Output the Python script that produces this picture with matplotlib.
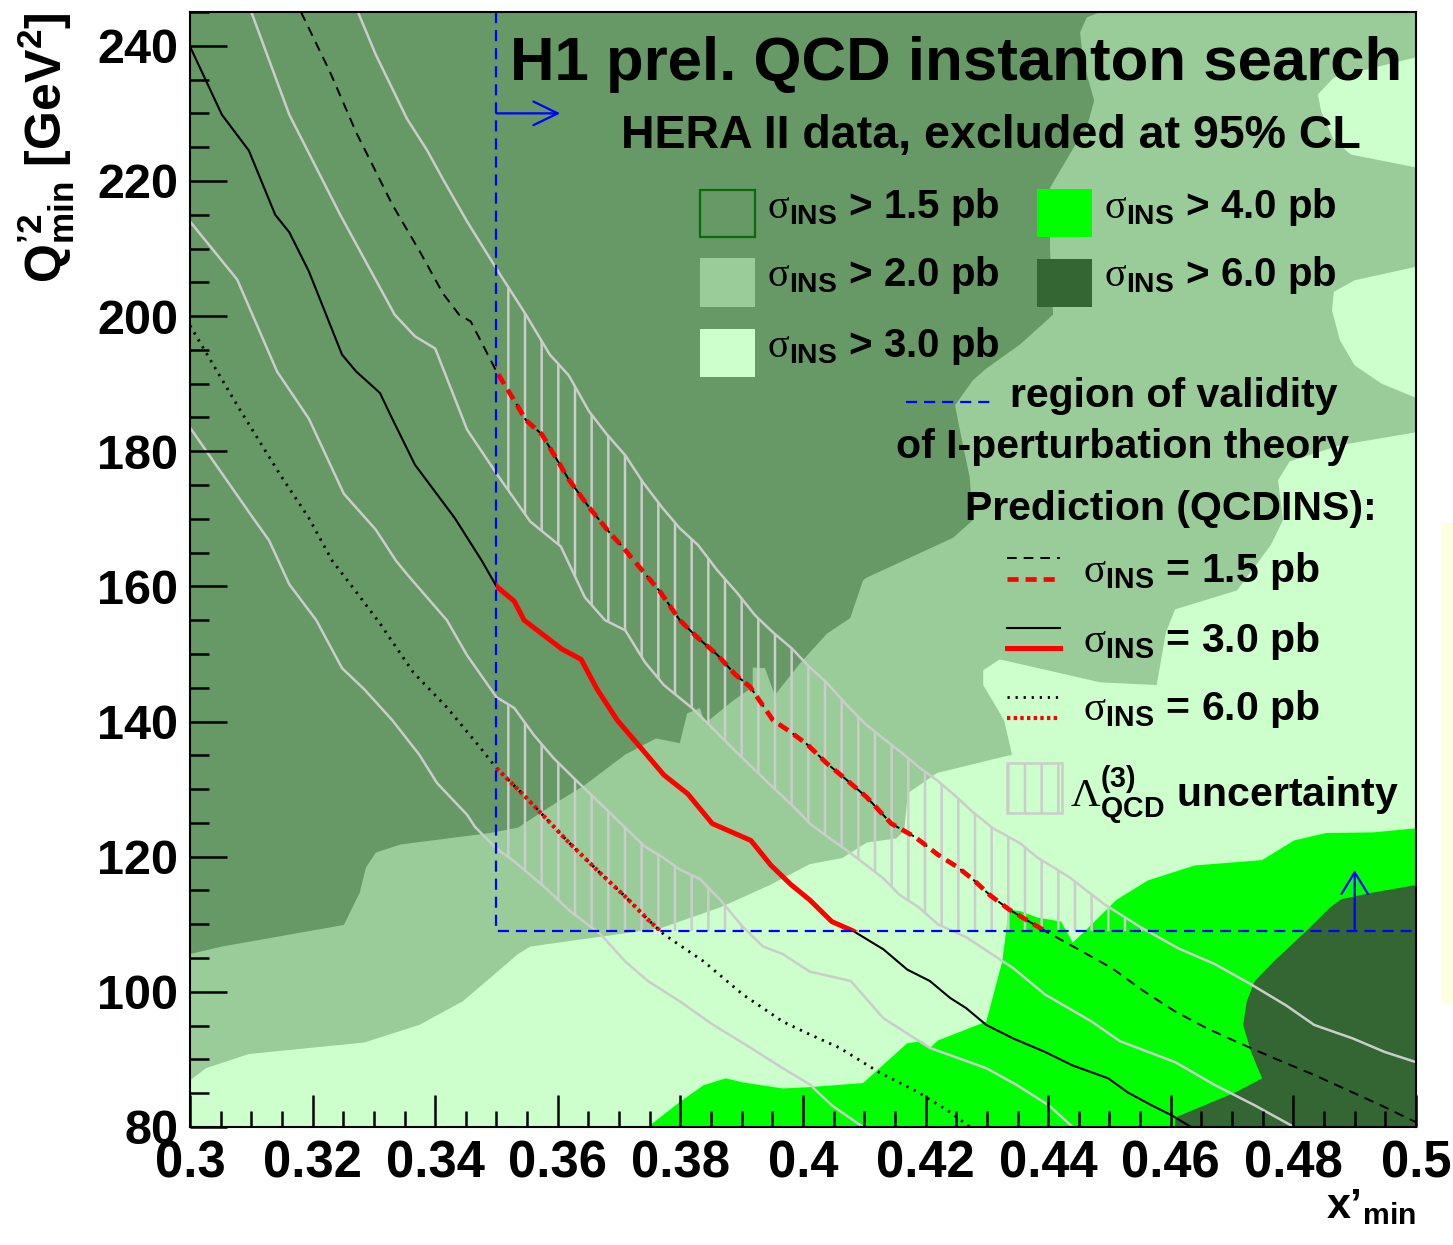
import numpy as np
import matplotlib
matplotlib.use('Agg')
import matplotlib.pyplot as plt
from matplotlib.patches import Rectangle
from matplotlib.lines import Line2D
from matplotlib.ticker import MultipleLocator, FuncFormatter

W, H = 1453, 1245
plt.rcParams['font.family'] = ['Liberation Sans', 'DejaVu Sans']
plt.rcParams['font.weight'] = 'bold'
plt.rcParams['mathtext.fontset'] = 'custom'
plt.rcParams['mathtext.rm'] = 'Liberation Sans:bold'
plt.rcParams['mathtext.bf'] = 'Liberation Sans:bold'
plt.rcParams['mathtext.it'] = 'Liberation Sans:bold'
plt.rcParams['mathtext.sf'] = 'Liberation Serif:weight=normal'
plt.rcParams['lines.scale_dashes'] = False
plt.rcParams['hatch.linewidth'] = 1.8
plt.rcParams['hatch.color'] = '#CCCCCC'

# ---------------- axis ranges / validity region ----------------
XMIN, XMAX = 0.3, 0.5
YMIN, YMAX = 80, 245
X_VALID, Q2_VALID = 0.35, 109
x_ticks_major, x_ticks_minor = 0.02, 0.005
y_ticks_major, y_ticks_minor = 20, 5

# ---------------- excluded regions (contour boundaries) ----------------
sig20_x = [0.3000, 0.3052, 0.3251, 0.3277, 0.3287, 0.3303, 0.3343, 0.3489, 0.3535, 0.3594,
           0.3644, 0.3710, 0.3760, 0.3799, 0.3811, 0.3832, 0.3840, 0.3886, 0.3918, 0.3918,
           0.3938, 0.3954, 0.3995, 0.4039, 0.4077, 0.4098, 0.4104, 0.4245, 0.4277, 0.4272,
           0.4256, 0.4248, 0.4277, 0.4300, 0.4354, 0.4408, 0.4403, 0.4403, 0.4442, 0.4463,
           0.4475, 0.4457, 0.4452, 0.4463, 0.4485]
sig20_y = [105.6, 106.7, 109.9, 114.7, 118.4, 120.6, 121.8, 123.5, 124.3, 127.8,
           130.6, 135.1, 137.5, 136.8, 141.2, 142.0, 139.7, 143.1, 145.1, 148.0,
           147.9, 143.9, 148.6, 153.0, 155.3, 160.9, 161.3, 167.2, 169.8, 176.1,
           183.1, 186.8, 190.5, 192.3, 195.8, 200.2, 209.7, 219.0, 225.0, 227.9,
           231.9, 237.7, 242.0, 244.2, 245.0]

sig30_x = [0.3000, 0.3026, 0.3096, 0.3284, 0.3374, 0.3445, 0.3489, 0.3535, 0.3555, 0.3767,
           0.3865, 0.3946, 0.4011, 0.4064, 0.4104, 0.4152, 0.4165, 0.4171, 0.4219, 0.4341,
           0.4328, 0.4294, 0.4294, 0.4321, 0.4485, 0.4577, 0.4592, 0.4607, 0.4708, 0.4763,
           0.4783, 0.4775, 0.4794, 0.4876, 0.5000]
sig30_y = [86.9, 88.7, 90.8, 92.5, 95.1, 98.6, 102.0, 105.6, 106.7, 109.4,
           112.5, 115.8, 118.9, 119.8, 122.1, 122.7, 123.8, 129.4, 132.4, 135.1,
           140.2, 145.4, 147.6, 149.2, 145.8, 145.4, 153.2, 156.6, 159.4, 166.1,
           169.8, 175.7, 178.5, 180.9, 182.8]

sig30_island1_x = [0.5000, 0.4866, 0.4840, 0.4845, 0.4866, 0.4894, 0.5000]
sig30_island1_y = [238.3, 235.3, 232.8, 230.4, 226.0, 223.9, 222.0]
sig30_island2_x = [0.5000, 0.4900, 0.4866, 0.4863, 0.4876, 0.4900, 0.4944, 0.5000]
sig30_island2_y = [207.3, 205.3, 203.6, 200.8, 196.4, 192.7, 190.0, 187.9]

sig40_x = [0.3747, 0.3799, 0.3838, 0.3874, 0.3902, 0.3967, 0.4011, 0.4098, 0.4170, 0.4194,
           0.4207, 0.4220, 0.4299, 0.4325, 0.4336, 0.4356, 0.4382, 0.4421, 0.4440, 0.4460,
           0.4511, 0.4563, 0.4639, 0.4749, 0.4801, 0.4853, 0.4930, 0.5000]
sig40_y = [80.0, 83.7, 86.2, 87.2, 86.6, 85.7, 85.9, 86.5, 92.4, 92.7,
           91.7, 92.8, 95.6, 104.5, 112.2, 111.9, 111.0, 110.4, 107.3, 109.0,
           113.6, 116.5, 118.7, 119.5, 122.4, 123.5, 123.6, 124.2]

sig60_x = [0.5000, 0.4930, 0.4878, 0.4860, 0.4821, 0.4768, 0.4737, 0.4724, 0.4718, 0.4731,
           0.4749, 0.4705, 0.4639, 0.4607, 0.4607]
sig60_y = [115.8, 114.7, 113.7, 112.5, 109.0, 104.5, 101.6, 98.6, 95.1, 91.1,
           87.2, 85.1, 82.6, 81.4, 80.0]

# ---------------- QCDINS predictions ----------------
pred15_x = [0.3181, 0.3228, 0.3271, 0.3303, 0.3330, 0.3374, 0.3413, 0.3439, 0.3458, 0.3500,
            0.3529, 0.3548, 0.3574, 0.3618, 0.3651, 0.3684, 0.3706, 0.3767, 0.3799, 0.3827,
            0.3860, 0.3889, 0.3914, 0.3951, 0.3979, 0.4007, 0.4039, 0.4072, 0.4104, 0.4144,
            0.4183, 0.4220, 0.4253, 0.4279, 0.4305, 0.4336, 0.4369, 0.4395, 0.4447, 0.4504,
            0.4556, 0.4607, 0.4659, 0.4705, 0.4768, 0.4834, 0.4897, 0.4943, 0.5000]
pred15_y = [245.0, 236.2, 227.2, 221.4, 216.5, 209.7, 203.3, 200.2, 199.2, 191.8,
            187.5, 184.6, 182.5, 175.8, 171.7, 168.0, 165.8, 159.2, 155.0, 152.5,
            149.9, 147.0, 145.1, 140.2, 138.5, 136.6, 133.8, 131.3, 128.8, 124.9,
            122.9, 120.3, 118.4, 116.5, 114.3, 112.2, 110.4, 109.0, 106.4, 103.5,
            100.1, 97.1, 94.6, 92.7, 90.2, 87.7, 85.1, 83.2, 80.7]

pred30_x = [0.3000, 0.3052, 0.3096, 0.3139, 0.3162, 0.3194, 0.3248, 0.3271, 0.3303, 0.3310,
            0.3330, 0.3367, 0.3432, 0.3476, 0.3500, 0.3529, 0.3545, 0.3607, 0.3638, 0.3664,
            0.3697, 0.3729, 0.3773, 0.3812, 0.3852, 0.3915, 0.3948, 0.3980, 0.4011, 0.4047,
            0.4082, 0.4131, 0.4170, 0.4207, 0.4240, 0.4266, 0.4299, 0.4343, 0.4395, 0.4440,
            0.4498, 0.4530, 0.4569, 0.4602, 0.4633]
pred30_y = [239.9, 229.8, 224.5, 215.0, 212.4, 206.6, 194.3, 191.8, 189.2, 188.6,
            184.8, 178.0, 170.1, 163.8, 160.0, 157.8, 155.0, 150.7, 149.2, 144.8,
            140.2, 136.8, 132.1, 129.3, 124.9, 122.4, 118.7, 115.9, 113.6, 110.4,
            109.0, 106.3, 103.3, 101.6, 99.1, 97.6, 95.1, 93.1, 91.1, 89.1,
            87.2, 85.1, 83.2, 81.7, 80.0]

pred60_x = [0.3000, 0.3083, 0.3148, 0.3194, 0.3232, 0.3271, 0.3310, 0.3364, 0.3419, 0.3473,
            0.3500, 0.3550, 0.3618, 0.3670, 0.3710, 0.3747, 0.3773, 0.3838, 0.3902, 0.3967,
            0.4011, 0.4060, 0.4124, 0.4189, 0.4240, 0.4272]
pred60_y = [198.6, 185.9, 176.4, 170.1, 163.8, 159.2, 154.5, 147.3, 142.1, 136.2,
            133.1, 128.6, 122.1, 117.5, 114.1, 110.7, 108.5, 104.5, 99.6, 95.6,
            93.7, 91.7, 88.1, 85.1, 82.2, 80.0]

# Lambda_QCD uncertainty bands
band15_up_x = [0.3274, 0.3303, 0.3354, 0.3387, 0.3413, 0.3452, 0.3500, 0.3529, 0.3548, 0.3587,
               0.3618, 0.3651, 0.3680, 0.3710, 0.3739, 0.3770, 0.3799, 0.3829, 0.3860, 0.3892,
               0.3922, 0.3951, 0.3982, 0.4008, 0.4039, 0.4072, 0.4101, 0.4131, 0.4162, 0.4191,
               0.4219, 0.4251, 0.4277, 0.4310, 0.4354, 0.4382, 0.4434, 0.4491, 0.4550, 0.4613,
               0.4672, 0.4731, 0.4788, 0.4834, 0.4897, 0.4949, 0.5000]
band15_up_y = [245.0, 238.7, 229.2, 224.5, 220.2, 214.0, 207.0, 202.9, 200.2, 194.3,
               191.2, 185.9, 182.5, 179.4, 175.4, 171.7, 168.6, 166.1, 162.4, 159.1,
               155.7, 153.2, 150.8, 148.3, 145.7, 142.4, 139.7, 137.5, 135.3, 133.1,
               131.3, 128.8, 126.6, 124.2, 122.0, 119.9, 117.0, 113.0, 109.6, 106.4,
               104.1, 101.1, 98.0, 95.1, 93.1, 91.1, 89.6]
band15_lo_x = [0.3100, 0.3162, 0.3245, 0.3334, 0.3367, 0.3400, 0.3452, 0.3500, 0.3555, 0.3605,
               0.3644, 0.3677, 0.3710, 0.3742, 0.3773, 0.3819, 0.3858, 0.3889, 0.3922, 0.3954,
               0.3987, 0.4011, 0.4041, 0.4072, 0.4104, 0.4131, 0.4157, 0.4189, 0.4220, 0.4266,
               0.4343, 0.4395, 0.4471, 0.4517, 0.4607, 0.4672, 0.4737, 0.4801]
band15_lo_y = [245.0, 229.8, 215.0, 200.2, 197.0, 195.2, 183.2, 176.7, 169.6, 165.9,
               158.4, 155.0, 153.5, 148.8, 145.4, 142.0, 138.5, 135.7, 132.8, 130.0,
               127.2, 124.9, 122.9, 120.9, 118.7, 116.8, 114.4, 112.5, 110.0, 108.1,
               103.5, 99.6, 95.6, 92.7, 89.6, 86.2, 83.2, 80.0]
band60_up_x = [0.3000, 0.3077, 0.3142, 0.3194, 0.3251, 0.3303, 0.3336, 0.3354, 0.3419, 0.3452,
               0.3500, 0.3529, 0.3561, 0.3594, 0.3631, 0.3677, 0.3710, 0.3742, 0.3773, 0.3799,
               0.3832, 0.3865, 0.3902, 0.3935, 0.3967, 0.4011, 0.4078, 0.4131, 0.4207, 0.4299,
               0.4349, 0.4401, 0.4440]
band60_up_y = [214.0, 205.4, 191.8, 184.8, 173.7, 168.4, 163.8, 161.8, 155.0, 149.8,
               143.6, 142.0, 138.0, 134.5, 131.2, 127.2, 124.3, 121.5, 119.8, 118.1,
               116.7, 113.6, 109.6, 106.7, 105.6, 103.0, 101.6, 96.1, 91.7, 88.7,
               86.2, 83.2, 80.0]
band60_lo_x = [0.3000, 0.3103, 0.3129, 0.3162, 0.3206, 0.3248, 0.3284, 0.3330, 0.3374, 0.3403,
               0.3452, 0.3465, 0.3500, 0.3529, 0.3581, 0.3618, 0.3670, 0.3710, 0.3747, 0.3799,
               0.3852, 0.3915, 0.3967, 0.4011, 0.4047, 0.4098]
band60_lo_y = [183.5, 170.1, 166.8, 160.3, 155.0, 147.9, 144.8, 140.2, 135.1, 130.9,
               126.2, 124.4, 121.2, 119.3, 115.3, 112.1, 108.5, 104.5, 101.6, 98.6,
               95.2, 91.7, 88.7, 86.3, 83.2, 80.0]

# arrows marking the validity region
arrow_right_q2, arrow_right_x_end = 230, 0.3604
arrow_up_x, arrow_up_q2_end = 0.49, 118

# ---------------- styles ----------------
C15, C20, C30, C40, C60 = '#669966', '#99CC99', '#CCFFCC', '#00FF00', '#336633'
GREY = '#CCCCCC'
DASH_K = (0, (7, 5))
DASH_R = (0, (8, 5))
DOT_K = (0, (1.6, 4.2))
DOT_R = (0, (2.4, 2.4))
DASH_B = (0, (8, 5))

fig = plt.figure(figsize=(W / 100, H / 100), dpi=100)
ax = fig.add_axes([190 / W, 1 - 1127 / H, (1416 - 190) / W, (1127 - 12) / H])
ax.set_xlim(XMIN, XMAX)
ax.set_ylim(YMIN, YMAX)
ax.set_facecolor(C15)

# filled contours
ax.fill(sig20_x + [XMAX, XMAX, XMIN], sig20_y + [YMAX, YMIN, YMIN], color=C20, lw=0, zorder=1.0)
ax.fill(sig30_x + [XMAX, XMIN], sig30_y + [YMIN, YMIN], color=C30, lw=0, zorder=1.1)
ax.fill(sig30_island1_x, sig30_island1_y, color=C30, lw=0, zorder=1.1)
ax.fill(sig30_island2_x, sig30_island2_y, color=C30, lw=0, zorder=1.1)
ax.fill(sig40_x + [XMAX], sig40_y + [YMIN], color=C40, lw=0, zorder=1.2)
ax.fill(sig60_x + [XMAX], sig60_y + [YMIN], color=C60, lw=0, zorder=1.3)

valid_clip = Rectangle((X_VALID, Q2_VALID), XMAX - X_VALID, YMAX - Q2_VALID,
                       transform=ax.transData)

# hatched uncertainty bands within validity region
for ux, uy, lx, ly in [(band15_up_x, band15_up_y, band15_lo_x, band15_lo_y),
                       (band60_up_x, band60_up_y, band60_lo_x, band60_lo_y)]:
    polys = ax.fill(ux + lx[::-1], uy + ly[::-1], facecolor='none', edgecolor=GREY,
                    hatch='|', lw=0, zorder=1.5)
    for p in polys:
        p.set_clip_path(valid_clip)
    ax.plot(ux, uy, color=GREY, lw=1.8, zorder=1.6)
    ax.plot(lx, ly, color=GREY, lw=1.8, zorder=1.6)

# predictions: black everywhere, red inside the validity region
ax.plot(pred15_x, pred15_y, color='black', lw=1.4, ls=DASH_K, zorder=2)
ax.plot(pred30_x, pred30_y, color='black', lw=1.5, zorder=2)
ax.plot(pred60_x, pred60_y, color='black', lw=2.0, ls=DOT_K, zorder=2)
for xs, ys, ls, lw in [(pred15_x, pred15_y, DASH_R, 3.4),
                       (pred30_x, pred30_y, '-', 3.6),
                       (pred60_x, pred60_y, DOT_R, 3.0)]:
    ln, = ax.plot(xs, ys, color='red', lw=lw, ls=ls, zorder=2.1)
    ln.set_clip_path(valid_clip)

# validity region
ax.plot([X_VALID, X_VALID, XMAX], [YMAX, Q2_VALID, Q2_VALID], color='blue', lw=1.6,
        ls=DASH_B, zorder=2.2)
ax.annotate('', xy=(arrow_right_x_end, arrow_right_q2), xytext=(X_VALID, arrow_right_q2),
            arrowprops=dict(arrowstyle='->,head_length=1.75,head_width=0.85', color='blue',
                            lw=1.6, shrinkA=0, shrinkB=0), zorder=2.2)
ax.annotate('', xy=(arrow_up_x, arrow_up_q2_end), xytext=(arrow_up_x, Q2_VALID),
            arrowprops=dict(arrowstyle='->,head_length=1.55,head_width=0.95', color='blue',
                            lw=1.6, shrinkA=0, shrinkB=0), zorder=2.2)

# axes styling
ax.xaxis.set_major_locator(MultipleLocator(x_ticks_major))
ax.xaxis.set_minor_locator(MultipleLocator(x_ticks_minor))
ax.yaxis.set_major_locator(MultipleLocator(y_ticks_major))
ax.yaxis.set_minor_locator(MultipleLocator(y_ticks_minor))
ax.xaxis.set_major_formatter(FuncFormatter(lambda v, p: f'{v:g}'))
ax.yaxis.set_major_formatter(FuncFormatter(lambda v, p: f'{v:g}'))
ax.tick_params(axis='both', which='both', direction='in', top=False, right=False, width=1.8,
               color='black')
ax.tick_params(axis='x', which='major', length=23.4, labelsize=36.5, pad=9)
ax.tick_params(axis='x', which='minor', length=11.4)
ax.tick_params(axis='y', which='major', length=26.6, labelsize=35, pad=8.5)
ax.tick_params(axis='y', which='minor', length=13.4)
for s in ax.spines.values():
    s.set_linewidth(1.5)
ax.set_axisbelow(False)

# ---------------- annotation helpers (figure pixel coords) ----------------
def FX(px):
    return px / W


def FY(py):
    return 1 - py / H


def label(px, py, s, size, **kw):
    fig.text(FX(px), FY(py), s, fontsize=size, ha=kw.pop('ha', 'left'),
             va=kw.pop('va', 'baseline'), **kw)


def box(x0, y0, x1, y1, **kw):
    fig.add_artist(Rectangle((FX(x0), FY(y1)), FX(x1) - FX(x0), FY(y0) - FY(y1),
                             transform=fig.transFigure, **kw))


def sample(x0, x1, py, **kw):
    fig.add_artist(Line2D([FX(x0), FX(x1)], [FY(py), FY(py)], transform=fig.transFigure, **kw))


SIG = r'$\mathsf{\sigma}_{\mathrm{INS}}$'

label(510, 80, 'H1 prel. QCD instanton search', 44.5)
label(621, 148, 'HERA II data, excluded at 95% CL', 33.5)

box(700, 190, 755, 237, facecolor=C15, edgecolor='#0B6B0B', lw=1.6)
box(700, 258, 755, 307, facecolor=C20, edgecolor='none')
box(700, 329, 755, 377, facecolor=C30, edgecolor='none')
box(1037, 189, 1092, 237, facecolor=C40, edgecolor='none')
box(1037, 259, 1092, 307, facecolor=C60, edgecolor='none')
label(767, 218, SIG + ' > 1.5 pb', 29)
label(767, 286, SIG + ' > 2.0 pb', 29)
label(767, 357, SIG + ' > 3.0 pb', 29)
label(1104, 218, SIG + ' > 4.0 pb', 29)
label(1104, 286, SIG + ' > 6.0 pb', 29)

sample(906, 992, 402, color='blue', lw=1.6, ls=DASH_B)
label(1010, 407, 'region of validity', 29.5)
label(896, 458, 'of I-perturbation theory', 29.5)
label(965, 520, 'Prediction (QCDINS):', 29.5)

sample(1007, 1060, 558, color='black', lw=1.4, ls=DASH_K)
sample(1007, 1060, 579, color='red', lw=3.4, ls=DASH_R)
label(1083, 582, SIG + ' = 1.5 pb', 29.5)
sample(1007, 1060, 628, color='black', lw=1.5)
sample(1007, 1060, 648, color='red', lw=3.6)
label(1083, 652, SIG + ' = 3.0 pb', 29.5)
sample(1007, 1060, 697, color='black', lw=2.0, ls=DOT_K)
sample(1007, 1060, 718, color='red', lw=3.0, ls=DOT_R)
label(1083, 720, SIG + ' = 6.0 pb', 29.5)
box(1007, 763, 1062, 813, facecolor='none', edgecolor=GREY, lw=1.8, hatch='|')
label(1070, 807, r'$\mathsf{\Lambda}^{\mathrm{(3)}}_{\mathrm{QCD}}$ uncertainty', 29.5)

# axis titles
fig.text(FX(62), FY(12), r'Q$^{\mathrm{’2}}_{\mathrm{min}}$ [GeV$^{\mathrm{2}}$]', fontsize=36,
         rotation=90, rotation_mode='anchor', ha='right', va='baseline')
fig.text(FX(1416), FY(1218), r'x’$_{\mathrm{min}}$', fontsize=31, ha='right', va='baseline')

# pale strip at the right border
box(1441, 523, 1453, 1003, facecolor='#FFFFE0', edgecolor='none')

fig.savefig('out.png', dpi=100)
